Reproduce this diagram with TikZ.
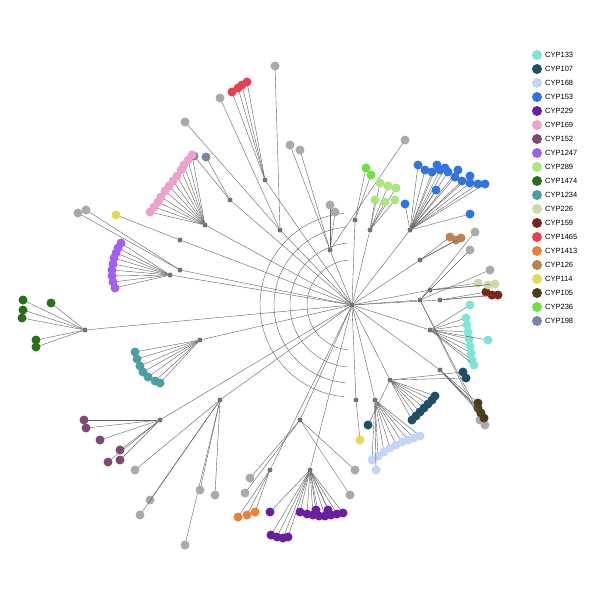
\documentclass[tikz,border=0pt]{standalone}
\usepackage{fontspec}
\setmainfont{Liberation Sans}
\usepackage{tikz}
\definecolor{c133}{HTML}{7FE5D5}
\definecolor{c107}{HTML}{1F4E66}
\definecolor{c168}{HTML}{C5D5F5}
\definecolor{c153}{HTML}{2F74E0}
\definecolor{c229}{HTML}{6A1FA0}
\definecolor{c169}{HTML}{EBA3CB}
\definecolor{c152}{HTML}{7D4A75}
\definecolor{c1247}{HTML}{A35FF0}
\definecolor{c289}{HTML}{ADE57F}
\definecolor{c1474}{HTML}{2A6E1A}
\definecolor{c1234}{HTML}{4C9FA0}
\definecolor{c226}{HTML}{CED8A8}
\definecolor{c159}{HTML}{7A2420}
\definecolor{c1465}{HTML}{E84050}
\definecolor{c1413}{HTML}{EB8038}
\definecolor{c126}{HTML}{B88350}
\definecolor{c114}{HTML}{E5D85A}
\definecolor{c105}{HTML}{4A3E1A}
\definecolor{c236}{HTML}{6EE040}
\definecolor{c198}{HTML}{7886A0}
\definecolor{cgrey}{HTML}{AAAAAA}
\tikzset{leaf/.style={circle,inner sep=0pt,minimum size=9pt},
 hub/.style={circle,fill=gray!90!black,inner sep=0pt,minimum size=5pt},
 branch/.style={gray!75!black,line width=0.4pt}}
% one clade: name, colour, hub position, leaves x/y
\newcommand{\clade}[4]{%
 \node[hub] (#1) at (#3) {};
 \draw[branch] (root) -- (#1);
 \foreach \x/\y [count=\i] in {#4} {
   \draw[branch] (#1) -- (\x,\y);
   \node[leaf,fill=#2] (#1-\i) at (\x,\y) {};
 }}
\begin{document}
\begin{tikzpicture}[x=1pt,y=-1pt]
 \useasboundingbox (0,0) rectangle (600,600);
 \node[hub] (root) at (352,305) {};
 \foreach \r in {45,62,78,92}
   \draw[branch] (root) ++(95:\r) arc (95:265:\r);
 \clade{g1}{cgrey}{280,230}{275/66,220/98,185/122}
 \clade{g2}{cgrey}{330,250}{290/145,300/150,330/205,335/212,405/140}
 \clade{g3}{cgrey}{180,270}{78/213,86/210}
 \clade{g4}{cgrey}{220,400}{135/470,150/500,140/515,185/545,200/490,215/495}
 \clade{g5}{cgrey}{300,420}{250/478,245/493,350/495,355/470}
 \clade{g6}{cgrey}{420,300}{480/420,485/425,475/232,470/250,490/270}
 \clade{k1465}{c1465}{265,180}{232/92,238/88,242/85,247/82}
 \clade{k198}{c198}{230,200}{194/156,206/157}
 \clade{k169}{c169}{205,225}{150/212,154/207,158/202,161/197,165/191,169/186,173/181,177/176,181/170,184/165,188/160,192/155}
 \clade{k114a}{c114}{180,240}{116/215}
 \clade{k1247}{c1247}{170,275}{121/243,118/248,116/253,114/258,113/264,112/270,112/276,113/282,115/288}
 \clade{k1474}{c1474}{85,330}{23/300,23/310,22/318,51/303,36/340,36/347}
 \clade{k1234}{c1234}{200,340}{135/352,137/359,140/366,143/372,148/377,155/381,160/383}
 \clade{k152}{c152}{160,420}{84/420,86/428,100/440,120/450,120/460,108/462}
 \clade{k1413}{c1413}{270,470}{238/517,247/515,255/512}
 \clade{k229}{c229}{310,470}{270/512,271/535,277/537,283/538,288/537,300/512,307/514,313/515,319/516,325/516,331/515,337/514,343/513,316/510,328/510}
 \clade{k114b}{c114}{356,400}{360/440}
 \clade{k168}{c168}{375,400}{372/460,378/456,384/452,390/448,396/445,402/442,408/440,414/438,420/436,376/470}
 \clade{k107}{c107}{390,380}{412/420,416/416,420/412,424/408,428/404,432/400,435/396,368/425,463/372,466/378}
 \clade{k105}{c105}{440,370}{478/403,478/408,481/413,484/418}
 \clade{k133}{c133}{430,330}{470/305,466/318,467/325,468/332,469/339,470/346,471/353,472/360,474/365,488/340}
 \clade{k159}{c159}{440,300}{486/292,492/295,498/295}
 \clade{k226}{c226}{430,290}{478/283,488/285,495/284}
 \clade{k126}{c126}{420,260}{450/237,456/240,461/238}
 \clade{k153}{c153}{410,230}{418/165,425/170,432/172,440/170,448/172,455/177,462/181,470/183,478/184,485/184,437/165,445/168,458/170,470/176,436/190,470/214,405/204}
 \clade{k289}{c289}{370,230}{380/183,388/186,396/188,375/200,385/202,395/200}
 \clade{k236}{c236}{355,220}{366/168,371/175}
 % legend
 \foreach \n/\c [count=\i from 0] in {133/c133,107/c107,168/c168,153/c153,229/c229,169/c169,152/c152,1247/c1247,289/c289,1474/c1474,1234/c1234,226/c226,159/c159,1465/c1465,1413/c1413,126/c126,114/c114,105/c105,236/c236,198/c198}{
   \node[leaf,fill=\c,minimum size=10pt] (key\n) at (537,55+14*\i) {};
   \node[anchor=west,font=\fontsize{7.5}{9}\selectfont,inner sep=1pt] (lab\n) at (544,55+14*\i) {CYP\n};
 }
\end{tikzpicture}
\end{document}
